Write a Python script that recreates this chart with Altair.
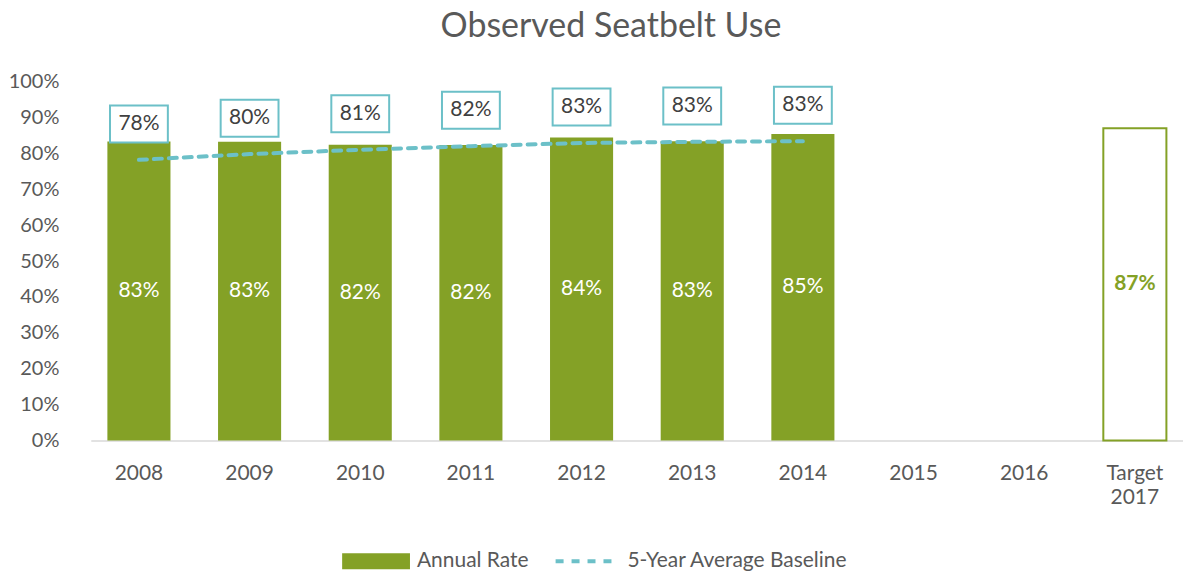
import altair as alt
import pandas as pd

categories = ["2008", "2009", "2010", "2011", "2012", "2013", "2014", "2015", "2016", "Target 2017"]
years = ["2008", "2009", "2010", "2011", "2012", "2013", "2014"]
annual_rate = [83.3, 83.2, 82.4, 82.3, 84.4, 83.4, 85.4]
baseline = [78.2, 79.8, 81.0, 82.0, 82.9, 83.2, 83.4]
target_cat = ["Target 2017"]
target_val = [87.0]
y_ticks = [0, 10, 20, 30, 40, 50, 60, 70, 80, 90, 100]

GREEN = "#84A126"
TEAL = "#6CC0C8"
GREY = "#595959"
FONT = "Lato"
FS = 21

bars_df = pd.DataFrame({"cat": years, "val": annual_rate, "series": "Annual Rate",
                        "lbl": [f"{round(v)}%" for v in annual_rate]})
bars_df["mid"] = bars_df["val"] / 2
line_df = pd.DataFrame({"cat": years, "val": baseline, "series": "5-Year Average Baseline",
                        "lbl": [f"{round(v)}%" for v in baseline]})
tgt_df = pd.DataFrame({"cat": target_cat, "val": target_val,
                       "lbl": [f"{round(v)}%" for v in target_val]})
tgt_df["mid"] = tgt_df["val"] / 2

xscale = alt.Scale(domain=categories, paddingInner=0.43, paddingOuter=0.15)
xaxis = alt.Axis(labelAngle=0, ticks=False, domainColor="#D9D9D9", domainWidth=1.5,
                 labelFontSize=FS, labelColor=GREY, labelFont=FONT, labelPadding=22,
                 labelLineHeight=24, labelOverlap=False,
                 labelExpr="datum.label == 'Target 2017' ? ['Target', '2017'] : datum.label")
x = alt.X("cat:N", scale=xscale, sort=categories, title=None, axis=xaxis)
yscale = alt.Scale(domain=[0, 100])
yaxis = alt.Axis(values=y_ticks, grid=False, domain=False, ticks=False,
                 labelFontSize=20, labelColor=GREY, labelFont=FONT, labelPadding=32,
                 labelOverlap=False, labelExpr="datum.value + '%'")
y = alt.Y("val:Q", scale=yscale, title=None, axis=yaxis)
ymid = alt.Y("mid:Q", scale=yscale, title=None, axis=yaxis)

bars = alt.Chart(bars_df).mark_bar(color=GREEN).encode(
    x=x, y=y,
    fill=alt.Fill("series:N", scale=alt.Scale(domain=["Annual Rate"], range=[GREEN]),
                  legend=alt.Legend(title=None, orient="none", legendX=252, legendY=447,
                                    symbolType="M-1,-0.235L1,-0.235L1,0.235L-1,0.235Z",
                                    symbolSize=4624, symbolStrokeWidth=0, labelFontSize=FS,
                                    labelColor=GREY, labelFont=FONT, labelOffset=7,
                                    labelLimit=400)),
)

bar_labels = alt.Chart(bars_df).mark_text(color="white", fontSize=FS, font=FONT).encode(
    x=x, y=ymid, text="lbl:N",
)

target = alt.Chart(tgt_df).mark_bar(fill="white", stroke=GREEN, strokeWidth=2).encode(x=x, y=y)
target_label = alt.Chart(tgt_df).mark_text(color=GREEN, fontSize=FS, font=FONT, fontWeight="bold").encode(
    x=x, y=ymid, text="lbl:N",
)

line = alt.Chart(line_df).mark_line(strokeWidth=4, strokeDash=[8, 7], strokeCap="round").encode(
    x=x, y=y,
    stroke=alt.Stroke("series:N", scale=alt.Scale(domain=["5-Year Average Baseline"], range=[TEAL]),
                      legend=alt.Legend(title=None, orient="none", legendX=464, legendY=448,
                                        symbolType="stroke", symbolSize=3844, symbolStrokeWidth=4,
                                        symbolDash=[8, 8], labelFontSize=FS, labelColor=GREY,
                                        labelFont=FONT, labelOffset=8, labelLimit=400)),
)

boxes = alt.Chart(line_df).mark_point(
    shape="M-1,-0.64L1,-0.64L1,0.64L-1,0.64Z", size=3364, filled=True, fill="white",
    stroke=TEAL, strokeWidth=2, opacity=1, yOffset=-36,
).encode(x=x, y=y)
box_labels = alt.Chart(line_df).mark_text(color="#404040", fontSize=FS, font=FONT, yOffset=-36).encode(
    x=x, y=y, text="lbl:N",
)

chart = alt.layer(bars, bar_labels, target, target_label, line, boxes, box_labels).resolve_scale(
    fill="independent", stroke="independent"
).properties(
    width=1095, height=360,
    title=alt.TitleParams("Observed Seatbelt Use", fontSize=34, font=FONT, color=GREY,
                          fontWeight="normal", anchor="middle", offset=28, dx=-26),
    autosize=alt.AutoSizeParams(type="none"),
    padding={"left": 83, "top": 73, "right": 0, "bottom": 133},
).configure_view(stroke=None)

chart.save("out.html", embed_options={"renderer": "svg", "actions": False})
